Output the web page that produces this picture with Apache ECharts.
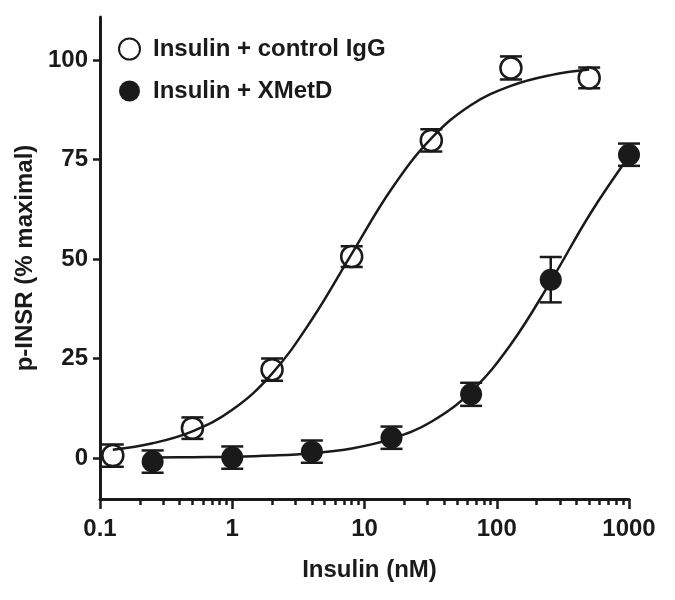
<!DOCTYPE html>
<html>
<head>
<meta charset="utf-8">
<script src="https://cdn.jsdelivr.net/npm/echarts@6/dist/echarts.min.js"></script>
<style>html,body{margin:0;padding:0;background:#fff;}#c{width:675px;height:600px;}</style>
</head>
<body>
<div id="c"></div>
<script>
// Data
const ctrlX = [0.125, 0.5, 2, 8, 32, 128, 500];
const ctrlY = [0.6, 7.5, 22.2, 50.6, 79.8, 98.0, 95.5];
const ctrlErr = [2.8, 2.7, 2.8, 2.6, 2.8, 2.9, 2.6];

const xmetX = [0.25, 1, 4, 16, 64, 256, 1000];
const xmetY = [-0.9, 0.1, 1.6, 5.1, 16.0, 44.8, 76.2];
const xmetErr = [2.8, 2.8, 2.8, 2.8, 2.9, 5.7, 2.8];

// fitted curves
const ctrlCurveX = [0.125, 0.25, 0.5, 1, 2, 4, 8, 16, 32, 64, 128, 256, 500];
const ctrlCurveY = [2.1, 3.7, 6.7, 12.1, 21.2, 34.8, 51.3, 67.6, 80.3, 88.7, 93.5, 96.2, 97.6];
const xmetCurveX = [0.25, 0.5, 1, 2, 4, 8, 16, 32, 64, 128, 256, 512, 1000];
const xmetCurveY = [0.1, 0.2, 0.3, 0.6, 1.2, 2.4, 4.8, 9.1, 16.7, 28.6, 44.4, 61.5, 75.8];

const xTicks = [0.1, 1, 10, 100, 1000];
const xMinorTicks = [0.2,0.3,0.4,0.5,0.6,0.7,0.8,0.9, 2,3,4,5,6,7,8,9, 20,30,40,50,60,70,80,90, 200,300,400,500,600,700,800,900];
const yTicks = [0, 25, 50, 75, 100];

const nameCtrl = 'Insulin + control IgG';
const nameXmet = 'Insulin + XMetD';

const INK = '#1a1a1a';
const FONT = '"Liberation Sans", Arial, sans-serif';

const zip = (a, b) => a.map((v, i) => [v, b[i]]);
const zip3 = (a, b, c) => a.map((v, i) => [v, b[i], c[i]]);

function errRender(params, api) {
  const x = api.value(0), y = api.value(1), e = api.value(2);
  const top = api.coord([x, y + e]);
  const bot = api.coord([x, y - e]);
  const hw = 11;
  const st = { stroke: INK, lineWidth: 2.5 };
  return {
    type: 'group',
    children: [
      { type: 'line', shape: { x1: top[0], y1: top[1], x2: bot[0], y2: bot[1] }, style: st },
      { type: 'line', shape: { x1: top[0] - hw, y1: top[1], x2: top[0] + hw, y2: top[1] }, style: st },
      { type: 'line', shape: { x1: bot[0] - hw, y1: bot[1], x2: bot[0] + hw, y2: bot[1] }, style: st }
    ]
  };
}

const chart = echarts.init(document.getElementById('c'), null, { renderer: 'canvas' });
chart.setOption({
  backgroundColor: '#fff',
  animation: false,
  textStyle: { fontFamily: FONT },
  grid: { left: 100, top: 17, width: 529, height: 482, containLabel: false },
  legend: {
    orient: 'vertical',
    left: 113, top: 32,
    itemWidth: 21, itemHeight: 21,
    itemGap: 18,
    data: [nameCtrl, nameXmet],
    textStyle: { fontFamily: FONT, fontWeight: 'bold', fontSize: 24, color: INK, padding: [0, 0, 0, 8] },
    selectedMode: false
  },
  xAxis: [{
    type: 'log', logBase: 10, min: 0.1, max: 1000,
    name: 'Insulin (nM)', nameLocation: 'middle', nameGap: 59,
    nameTextStyle: { fontFamily: FONT, fontWeight: 'bold', fontSize: 24, color: INK, padding: [0, 0, 0, 10] },
    axisLine: { show: true, onZero: false, lineStyle: { color: INK, width: 3 } },
    axisTick: { show: true, length: 10, lineStyle: { color: INK, width: 2.5 }, customValues: xTicks },
    axisLabel: { show: true, margin: 18, fontFamily: FONT, fontWeight: 'bold', fontSize: 24, color: INK,
      customValues: xTicks, formatter: v => String(+v.toPrecision(6)) },
    splitLine: { show: false }, minorTick: { show: false }
  }, {
    type: 'log', logBase: 10, min: 0.1, max: 1000, position: 'bottom',
    axisLine: { show: false, onZero: false },
    axisTick: { show: true, length: 6, lineStyle: { color: INK, width: 2.5 }, customValues: xMinorTicks },
    axisLabel: { show: false }, splitLine: { show: false }
  }],
  yAxis: {
    type: 'value', min: -10.3, max: 110.8,
    name: 'p-INSR (% maximal)', nameLocation: 'middle', nameGap: 58, nameRotate: 90,
    nameTextStyle: { fontFamily: FONT, fontWeight: 'bold', fontSize: 24, color: INK },
    axisLine: { show: true, onZero: false, lineStyle: { color: INK, width: 3 } },
    axisTick: { show: true, length: 7, lineStyle: { color: INK, width: 2.5 }, customValues: yTicks },
    axisLabel: { show: true, margin: 12, fontFamily: FONT, fontWeight: 'bold', fontSize: 24, color: INK, customValues: yTicks },
    splitLine: { show: false }
  },
  series: [
    { name: 'errCtrl', type: 'custom', renderItem: errRender, data: zip3(ctrlX, ctrlY, ctrlErr), z: 1, silent: true },
    { name: 'errXmet', type: 'custom', renderItem: errRender, data: zip3(xmetX, xmetY, xmetErr), z: 1, silent: true },
    { name: nameCtrl, type: 'scatter', data: zip(ctrlX, ctrlY), symbol: 'circle', symbolSize: 21, z: 2,
      itemStyle: { color: '#fff', borderColor: INK, borderWidth: 2.5, opacity: 1 } },
    { name: nameXmet, type: 'scatter', data: zip(xmetX, xmetY), symbol: 'circle', symbolSize: 22, z: 2,
      itemStyle: { color: INK, borderColor: INK, borderWidth: 0, opacity: 1 } },
    { name: 'fitCtrl', type: 'line', data: zip(ctrlCurveX, ctrlCurveY), smooth: 0.4, showSymbol: false, symbol: 'none', z: 3,
      lineStyle: { color: INK, width: 2.5 } },
    { name: 'fitXmet', type: 'line', data: zip(xmetCurveX, xmetCurveY), smooth: 0.4, showSymbol: false, symbol: 'none', z: 3,
      lineStyle: { color: INK, width: 2.5 } }
  ]
});
</script>
</body>
</html>
